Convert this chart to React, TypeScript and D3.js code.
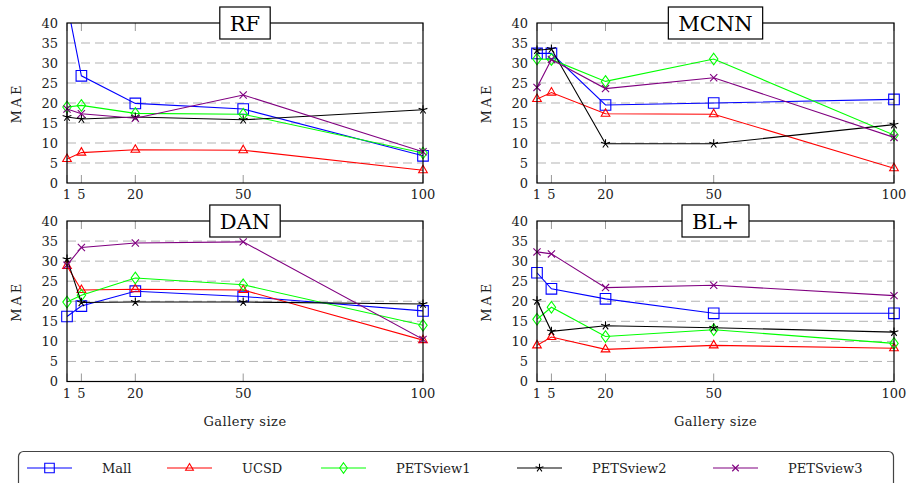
import React, { useEffect, useRef } from 'react'
import { select, scaleLinear, line } from 'd3'

// gallery sizes on the x axis
const gallerySizes = [1, 5, 20, 50, 100]
const yTicks = [0, 5, 10, 15, 20, 25, 30, 35, 40]
const seriesNames = ['Mall', 'UCSD', 'PETSview1', 'PETSview2', 'PETSview3']
const methods = ['RF', 'MCNN', 'DAN', 'BL+']

// MAE per series (Mall, UCSD, PETSview1, PETSview2, PETSview3), one row per series
const rfMae = [
    [45, 26.8, 19.9, 18.5, 6.8],
    [6.0, 7.6, 8.3, 8.2, 3.2],
    [19.0, 19.4, 17.4, 17.2, 7.5],
    [16.5, 16.0, 16.5, 15.8, 18.3],
    [18.5, 17.3, 16.2, 22.0, 7.8],
]
const mcnnMae = [
    [32.4, 32.4, 19.5, 20.0, 20.9],
    [21.0, 22.6, 17.3, 17.2, 3.7],
    [31.0, 30.9, 25.4, 31.0, 12.0],
    [33.2, 33.5, 9.8, 9.8, 14.6],
    [23.9, 30.9, 23.6, 26.3, 11.4],
]
const danMae = [
    [16.2, 18.8, 22.5, 21.2, 17.6],
    [28.8, 22.8, 23.0, 22.8, 10.3],
    [19.8, 21.5, 25.8, 24.1, 14.0],
    [30.5, 19.7, 19.8, 19.8, 19.3],
    [29.0, 33.4, 34.5, 34.8, 10.5],
]
const blMae = [
    [27.1, 23.1, 20.6, 17.0, 17.0],
    [9.0, 11.1, 8.0, 9.0, 8.3],
    [15.5, 18.5, 11.2, 12.9, 9.5],
    [20.1, 12.5, 13.9, 13.4, 12.3],
    [32.3, 31.8, 23.4, 24.0, 21.4],
]
const panelData = [rfMae, mcnnMae, danMae, blMae]

const colors = ['#0000ff', '#ff0000', '#00ff00', '#000000', '#800080']
const markers = ['square', 'triangle', 'diamond', 'star', 'x']

const FONT = "'DejaVu Serif', 'Liberation Serif', 'Times New Roman', serif"

const markerPath = (kind, s = 1) => {
    if (kind === 'square') { const h = 5.3 * s; return `M${-h},${-h}H${h}V${h}H${-h}Z` }
    if (kind === 'triangle') { const r = 5 * s; return `M0,${-r}L${r * 0.866},${r * 0.5}L${-r * 0.866},${r * 0.5}Z` }
    if (kind === 'diamond') { const v = 5.8 * s, h = 4.2 * s; return `M0,${-v}L${h},0L0,${v}L${-h},0Z` }
    if (kind === 'star') {
        const r = 4.6 * s
        let d = ''
        for (let i = 0; i < 5; i++) {
            const a = (-90 + i * 72) * Math.PI / 180
            d += `M0,0L${r * Math.cos(a)},${r * Math.sin(a)}`
        }
        return d
    }
    const c = 3.6 * s
    return `M${-c},${-c}L${c},${c}M${-c},${c}L${c},${-c}`
}

const App = () => {
    const ref = useRef(null)

    useEffect(() => {
        const svg = select(ref.current)
        svg.selectAll('*').remove()

        // plot rectangles: left/right/top/bottom
        const boxes = [
            { x0: 67, x1: 423, y0: 23, y1: 183 },
            { x0: 537, x1: 894, y0: 23, y1: 183 },
            { x0: 67, x1: 423, y0: 221, y1: 381.5 },
            { x0: 537, x1: 894, y0: 221, y1: 381.5 },
        ]

        boxes.forEach((b, p) => {
            const x = scaleLinear().domain([1, 100]).range([b.x0, b.x1])
            const y = scaleLinear().domain([0, 40]).range([b.y1, b.y0])
            const g = svg.append('g')

            g.append('clipPath').attr('id', `clip${p}`)
                .append('rect').attr('x', b.x0).attr('y', b.y0)
                .attr('width', b.x1 - b.x0).attr('height', b.y1 - b.y0)

            // dashed grid
            g.selectAll('line.grid').data(yTicks.slice(1, -1)).join('line')
                .attr('x1', b.x0).attr('x2', b.x1)
                .attr('y1', (d) => y(d)).attr('y2', (d) => y(d))
                .attr('stroke', '#b3b3b3').attr('stroke-width', 1)
                .attr('stroke-dasharray', '9,5')

            // x ticks (inside, bottom and top)
            gallerySizes.forEach((v) => {
                g.append('line').attr('x1', x(v)).attr('x2', x(v))
                    .attr('y1', b.y1).attr('y2', b.y1 - 8).attr('stroke', '#999')
                g.append('line').attr('x1', x(v)).attr('x2', x(v))
                    .attr('y1', b.y0).attr('y2', b.y0 + 8).attr('stroke', '#999')
                g.append('text').attr('x', x(v)).attr('y', b.y1 + 16)
                    .attr('text-anchor', 'middle').style('font-family', FONT)
                    .style('font-size', '13px').attr('fill', '#222').text(v)
            })

            yTicks.forEach((v) => {
                g.append('text').attr('x', b.x0 - 9).attr('y', y(v) + 4.5)
                    .attr('text-anchor', 'end').style('font-family', FONT)
                    .style('font-size', '13px').attr('fill', '#222').text(v)
            })

            g.append('text')
                .attr('transform', `translate(${b.x0 - 46},${(b.y0 + b.y1) / 2}) rotate(-90)`)
                .attr('text-anchor', 'middle').style('font-family', FONT)
                .style('font-size', '13px').style('letter-spacing', '3px').attr('fill', '#222').text('MAE')

            if (p >= 2) {
                g.append('text').attr('x', (b.x0 + b.x1) / 2).attr('y', 426)
                    .attr('text-anchor', 'middle').style('font-family', FONT)
                    .style('font-size', '13px').style('letter-spacing', '0.5px').attr('fill', '#222').text('Gallery size')
            }

            // series
            const lineGen = line().x((d) => x(d[0])).y((d) => y(d[1]))
            panelData[p].forEach((vals, s) => {
                const pts = vals.map((v, i) => [gallerySizes[i], v])
                g.append('path').attr('d', lineGen(pts))
                    .attr('fill', 'none').attr('stroke', colors[s]).attr('stroke-width', 1.1)
                    .attr('clip-path', `url(#clip${p})`)
                pts.filter((d) => d[1] <= 40).forEach((d) => {
                    g.append('path').attr('d', markerPath(markers[s]))
                        .attr('transform', `translate(${x(d[0])},${y(d[1])})`)
                        .attr('fill', 'none').attr('stroke', colors[s]).attr('stroke-width', 1.1)
                })
            })

            // frame
            g.append('rect').attr('x', b.x0).attr('y', b.y0)
                .attr('width', b.x1 - b.x0).attr('height', b.y1 - b.y0)
                .attr('fill', 'none').attr('stroke', '#000').attr('stroke-width', 1.2)

            // title box
            const cx = (b.x0 + b.x1) / 2
            const title = g.append('text').attr('x', cx).attr('y', b.y0 + 7.5)
                .attr('text-anchor', 'middle').style('font-family', FONT)
                .style('font-size', '21px').attr('fill', '#000').text(methods[p])
            const tw = title.node().getComputedTextLength()
            g.append('rect')
                .attr('x', cx - tw / 2 - 10).attr('y', b.y0 - 16)
                .attr('width', tw + 20).attr('height', 32)
                .attr('fill', '#fff').attr('stroke', '#000').attr('stroke-width', 1.2)
            title.raise()
        })

        // legend
        const lg = svg.append('g')
        lg.append('rect').attr('x', 18.5).attr('y', 451.5).attr('width', 875).attr('height', 45)
            .attr('rx', 5).attr('fill', '#fff').attr('stroke', '#444').attr('stroke-width', 1.2)
        const lineStarts = [27, 167, 321, 517, 713]
        seriesNames.forEach((name, s) => {
            const lx = lineStarts[s]
            lg.append('line').attr('x1', lx).attr('x2', lx + 45).attr('y1', 468).attr('y2', 468)
                .attr('stroke', colors[s]).attr('stroke-width', 1.1)
            lg.append('path').attr('d', markerPath(markers[s], 0.9))
                .attr('transform', `translate(${lx + 22.5},468)`)
                .attr('fill', 'none').attr('stroke', colors[s]).attr('stroke-width', 1.1)
            lg.append('text').attr('x', lx + 75).attr('y', 472.5)
                .style('font-family', FONT).style('font-size', '13px')
                .attr('fill', '#222').text(name)
        })
    }, [])

    return (
        <svg ref={ref} width={907} height={483}
            style={{ position: 'absolute', left: 0, top: 0, background: '#fff' }} />
    )
}

export default App
